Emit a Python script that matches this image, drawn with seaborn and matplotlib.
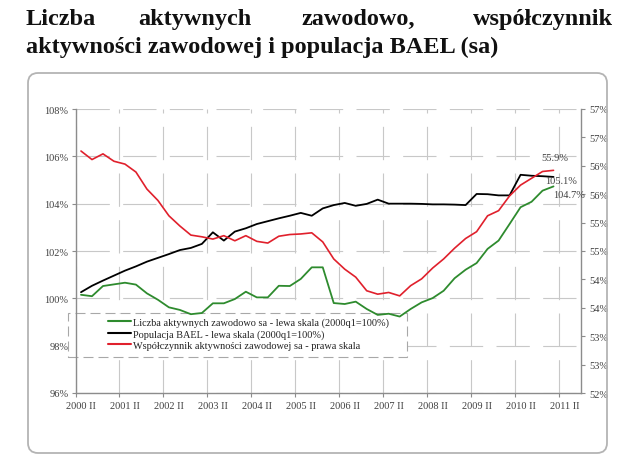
import numpy as np
import pandas as pd
import matplotlib
matplotlib.use("Agg")
import matplotlib.pyplot as plt
import seaborn as sns
from matplotlib.patches import Rectangle, FancyBboxPatch
from matplotlib.lines import Line2D
from matplotlib.transforms import IdentityTransform
from matplotlib.ticker import FuncFormatter

# ---------------- data ----------------
x_labels = ["2000 II", "2001 II", "2002 II", "2003 II", "2004 II", "2005 II",
            "2006 II", "2007 II", "2008 II", "2009 II", "2010 II", "2011 II"]
n_slots = 46  # quarterly category slots on the x axis (2000 II .. 2011 III)

aktywni = [100.15, 100.09, 100.52, 100.59, 100.66, 100.58, 100.21, 99.94, 99.62, 99.51,
           99.33, 99.38, 99.79, 99.79, 99.97, 100.28, 100.04, 100.04, 100.53, 100.52,
           100.82, 101.31, 101.31, 99.80, 99.76, 99.86, 99.55, 99.30, 99.35, 99.23,
           99.55, 99.83, 100.01, 100.32, 100.85, 101.21, 101.49, 102.09, 102.44, 103.14,
           103.85, 104.08, 104.55, 104.73]
populacja = [100.26, 100.53, 100.75, 100.96, 101.17, 101.35, 101.55, 101.71, 101.87, 102.04,
             102.13, 102.30, 102.79, 102.44, 102.82, 102.96, 103.14, 103.26, 103.38, 103.49,
             103.61, 103.49, 103.80, 103.94, 104.03, 103.91, 103.99, 104.17, 104.00, 104.00,
             104.00, 103.99, 103.97, 103.97, 103.96, 103.94, 104.41, 104.40, 104.35, 104.35,
             105.22, 105.18, 105.16, 105.13]
wspolczynnik = [56.26, 56.11, 56.21, 56.08, 56.03, 55.89, 55.59, 55.39, 55.12, 54.94,
                54.78, 54.75, 54.71, 54.77, 54.68, 54.77, 54.67, 54.64, 54.76, 54.79,
                54.80, 54.82, 54.66, 54.36, 54.18, 54.04, 53.80, 53.74, 53.77, 53.71,
                53.89, 54.01, 54.20, 54.36, 54.55, 54.72, 54.84, 55.12, 55.21, 55.47,
                55.66, 55.78, 55.90, 55.92]

legend_labels = ["Liczba aktywnych zawodowo sa - lewa skala (2000q1=100%)",
                 "Populacja BAEL - lewa skala (2000q1=100%)",
                 "Współczynnik aktywności zawodowej sa - prawa skala"]

# ---------------- style ----------------
sns.set_style("white")
plt.rcParams['font.family'] = ['Liberation Serif', 'DejaVu Serif']

W, H = 640, 460
fig = plt.figure(figsize=(6.4, 4.6), dpi=100)

GREEN = "#2e8b2e"
BLACK = "#000000"
RED = "#e0202c"
GRID = "#c8c8c8"
SPINE = "#8c8c8c"
TXT = "#404040"

# outer rounded frame
frame = FancyBboxPatch((28, H - 454), 579, 380,
                       boxstyle="round,pad=0,rounding_size=10",
                       transform=IdentityTransform(), fill=False,
                       ec="#b4b4b4", lw=1.3)
fig.add_artist(frame)

# ---------------- title ----------------
renderer = fig.canvas.get_renderer()
probe = fig.text(0, 0, "aktywności zawodowej i populacja BAEL (sa)",
                 fontsize=16, fontweight="bold")
w = probe.get_window_extent(renderer).width
probe.remove()
tfs = 16 * 474 / w

base1 = 1 - 25 / H
base2 = 1 - 53 / H
for word, px, ha in [("Liczba", 26, "left"), ("aktywnych", 138, "left"),
                     ("zawodowo,", 302, "left"), ("współczynnik", 613, "right")]:
    fig.text(px / W, base1, word, fontsize=tfs, fontweight="bold",
             ha=ha, va="baseline", color="#111111")
fig.text(26 / W, base2, "aktywności zawodowej i populacja BAEL (sa)",
         fontsize=tfs, fontweight="bold", ha="left", va="baseline", color="#111111")

# ---------------- axes ----------------
ax = fig.add_axes([75.5 / W, (H - 394) / H, 505.5 / W, 284 / H])
ax2 = ax.twinx()

xpos = np.arange(len(aktywni)) + 0.5
df = pd.DataFrame({"x": xpos, "aktywni": aktywni, "populacja": populacja,
                   "wsp": wspolczynnik})

sns.lineplot(data=df, x="x", y="aktywni", ax=ax, color=GREEN, lw=1.3, zorder=3)
sns.lineplot(data=df, x="x", y="populacja", ax=ax, color=BLACK, lw=1.3, zorder=3)
sns.lineplot(data=df, x="x", y="wsp", ax=ax2, color=RED, lw=1.2, zorder=3)

for a in (ax, ax2):
    a.set_xlabel("")
    a.set_ylabel("")
    if a.get_legend() is not None:
        a.get_legend().remove()

ax.set_xlim(0, n_slots)
ax.set_ylim(96, 108)
ax2.set_ylim(52, 57)

# x ticks: marks at category boundaries, labels at category centres
major = np.arange(0, 4 * len(x_labels), 4)
ax.set_xticks(major)
ax.set_xticklabels([""] * len(major))
ax.set_xticks(major + 0.5, minor=True)
ax.set_xticklabels(x_labels, minor=True)
ax.tick_params(axis="x", which="major", length=3, width=0.8, direction="out",
               color=SPINE, bottom=True)
ax.tick_params(axis="x", which="minor", length=0, pad=6, labelsize=7.5,
               labelcolor=TXT, bottom=True)

ax.set_yticks(np.arange(96, 108.1, 2))
ax.yaxis.set_major_formatter(FuncFormatter(lambda v, p: f"{v:.0f}%"))
ax.tick_params(axis="y", length=3, width=0.8, direction="out", color=SPINE,
               pad=2, labelsize=7.5, labelcolor=TXT, left=True)

ax2.set_yticks(np.arange(52, 57.01, 0.5))
ax2.yaxis.set_major_formatter(FuncFormatter(lambda v, p: f"{int(np.floor(v + 0.5 + 1e-9))}%"))
ax2.tick_params(axis="y", length=3, width=0.8, direction="out", color=SPINE,
                pad=3, labelsize=7.5, labelcolor=TXT, right=True)

# grid
ax.set_axisbelow(True)
ax.grid(True, which="major", color=GRID, lw=0.8, ls=(0, (30, 12)))
ax2.grid(False)

# spines
for s in ["top", "right"]:
    ax.spines[s].set_visible(False)
for s in ["top", "left", "bottom"]:
    ax2.spines[s].set_visible(False)
for sp in [ax.spines["left"], ax.spines["bottom"], ax2.spines["right"]]:
    sp.set_color(SPINE)
    sp.set_linewidth(1.0)

# legend box (white, dashed border)
lbox = Rectangle((68, H - 358), 339, 44, transform=IdentityTransform(),
                 facecolor="white", edgecolor="#a8a8a8", lw=0.8,
                 ls=(0, (9, 4.5)), zorder=1, clip_on=False)
ax.add_patch(lbox)

handles = [Line2D([], [], color=GREEN, lw=1.5),
           Line2D([], [], color=BLACK, lw=1.5),
           Line2D([], [], color=RED, lw=1.5)]
leg = ax.legend(handles, legend_labels, loc="center left",
                bbox_to_anchor=(103 / W, 1 - 334.7 / H),
                bbox_transform=fig.transFigure, frameon=False, borderpad=0,
                handlelength=2.2, handletextpad=0.25, labelspacing=0.2,
                fontsize=7.4)
for t in leg.get_texts():
    t.set_color("#222222")
leg.set_zorder(6)

# end-value labels
ax2.annotate(f"{wspolczynnik[-1]:.1f}%", xy=(xpos[-1], wspolczynnik[-1]),
             xytext=(1.2, 8.9), textcoords="offset points", ha="center",
             va="center", fontsize=7.5, color=TXT)
ax2.annotate(f"{populacja[-1]:.1f}%",
             xy=ax2.transData.inverted().transform(ax.transData.transform((xpos[-1], populacja[-1]))),
             xytext=(5.5, -2.9), textcoords="offset points", ha="center",
             va="center", fontsize=7.5, color=TXT)
ax2.annotate(f"{aktywni[-1]:.1f}%",
             xy=ax2.transData.inverted().transform(ax.transData.transform((xpos[-1], aktywni[-1]))),
             xytext=(11.2, -5.5), textcoords="offset points", ha="center",
             va="center", fontsize=7.5, color=TXT)

fig.savefig("out.png", dpi=100)
